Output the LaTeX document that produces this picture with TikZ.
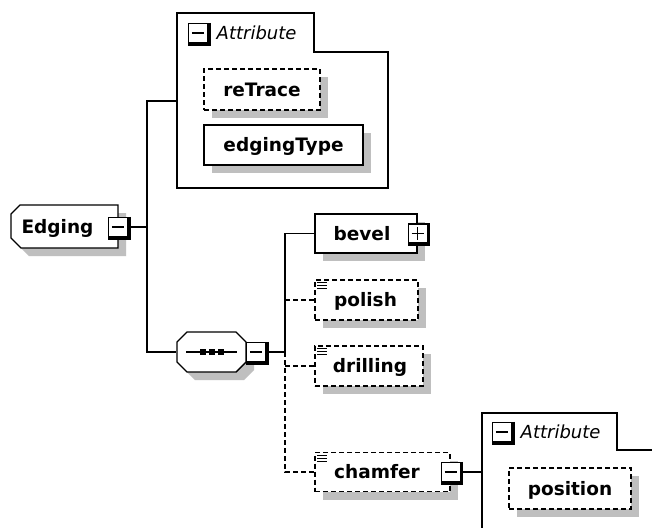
\documentclass[tikz,border=0pt]{standalone}
\usepackage{fontspec}
\setmainfont{DejaVu Sans}
\usetikzlibrary{shadows}
\newcommand\xicon[2]{%
  \node[icon] (#1) at (#2) {};
  \draw[line width=2.4pt] ([xshift=1.2pt]#1.north east) -- ([xshift=1.2pt,yshift=-1.2pt]#1.south east) -- ([yshift=-1.2pt]#1.south west);
  \draw ([xshift=4pt]#1.west) -- ([xshift=-4pt]#1.east);}
\newcommand\xplus[1]{\draw ([yshift=-4pt]#1.north) -- ([yshift=4pt]#1.south);}
\newcommand\xlist[1]{\foreach \d in {3.5,6.5,9.5} \draw[line width=1pt] ([xshift=3pt,yshift=-\d pt]#1.north west) -- ++(10,0);}
\begin{document}
\begin{tikzpicture}[x=1pt,y=-1pt,line width=1.4pt,
  lbl/.style={font=\fontsize{18.5}{20}\selectfont\bfseries, inner sep=0pt, text height=14pt, text depth=1pt},
  hdr/.style={font=\fontsize{18}{20}\selectfont\itshape, inner sep=0pt, anchor=west, text height=14pt, text depth=1pt},
  shd/.style={drop shadow={shadow xshift=8pt, shadow yshift=-8pt, fill=black!25, opacity=1}},
  box/.style={draw, fill=white, inner sep=0pt, shd},
  dbox/.style={box, dash pattern=on 5pt off 3pt},
  dcon/.style={dash pattern=on 5pt off 3pt},
  icon/.style={draw, fill=white, minimum size=19pt, inner sep=0pt},
]
\useasboundingbox (0,0) rectangle (652,527);
\clip (0,0) rectangle (652,527);
\fill[white] (0,0) rectangle (652,527);

% attribute group 1
\draw (177,13) -- (314,13) -- (314,52) -- (388,52) -- (388,188) -- (177,188) -- cycle;
\coordinate (attr1) at (177,101);
\xicon{h1}{198,33}
\node[hdr] (a1t) at (216,33) {Attribute};
\node[dbox, lbl, minimum width=116, minimum height=41] (retrace) at (262,89.5) {reTrace};
\node[box, lbl, minimum width=159, minimum height=40] (edgingtype) at (283.5,145) {edgingType};

% Edging
\draw[fill=white, shd] (20,205) -- (118,205) -- (118,248) -- (21,248) -- (11,238) -- (11,214) -- cycle;
\node[lbl] (edging) at (57.5,227) {Edging};
\xicon{edgicon}{118,227}

% sequence
\draw[fill=white, shd] (187,332) -- (236,332) -- (246,342) -- (246,362) -- (236,372) -- (187,372) -- (177,362) -- (177,342) -- cycle;
\node[minimum width=69, minimum height=40, inner sep=0pt] (seq) at (211.5,352) {};
\draw ([xshift=10pt]seq.west) -- ([xshift=-10pt]seq.east);
\foreach \sx in {202.5,211.5,220.5} \fill (\sx-3,349) rectangle +(6,6);
\xicon{seqicon}{256,352}

% children
\node[box, minimum width=102, minimum height=39] (bevel) at (366,233.5) {};
\node[lbl] (bevelt) at (362,233.5) {bevel};
\xicon{bevicon}{bevel.east}
\xplus{bevicon}

\node[dbox, minimum width=103, minimum height=40] (polish) at (366.5,300) {};
\node[lbl] (polisht) at (365.5,300) {polish};
\xlist{polish}

\node[dbox, minimum width=108, minimum height=40] (drilling) at (369,366) {};
\node[lbl] (drillingt) at (370,366) {drilling};
\xlist{drilling}

\node[dbox, minimum width=135, minimum height=39] (chamfer) at (382.5,472) {};
\node[lbl] (chamfert) at (377,472) {chamfer};
\xlist{chamfer}
\xicon{chicon}{chamfer.east}

% attribute group 2
\draw (482,540) -- (482,413) -- (617,413) -- (617,450) -- (660,450);
\coordinate (attr2) at (482,472);
\xicon{h2}{502,432}
\node[hdr] (a2t) at (520,432) {Attribute};
\node[dbox, lbl, minimum width=122, minimum height=41] (position) at (570,488.5) {position};

% connectors
\coordinate (j1) at (147,227);
\draw (edgicon.east) -- (j1);
\draw (attr1) -| (j1);
\draw (j1) |- (seq.west);
\coordinate (j2) at (285,352);
\draw (seqicon.east) -- (j2);
\draw (j2) |- (bevel.west);
\draw[dcon] (j2) |- (chamfer.west);
\draw[dcon] (j2 |- polish.west) -- (polish.west);
\draw[dcon] (j2 |- drilling.west) -- (drilling.west);
\draw (chicon.east) -- (attr2);
\end{tikzpicture}
\end{document}
